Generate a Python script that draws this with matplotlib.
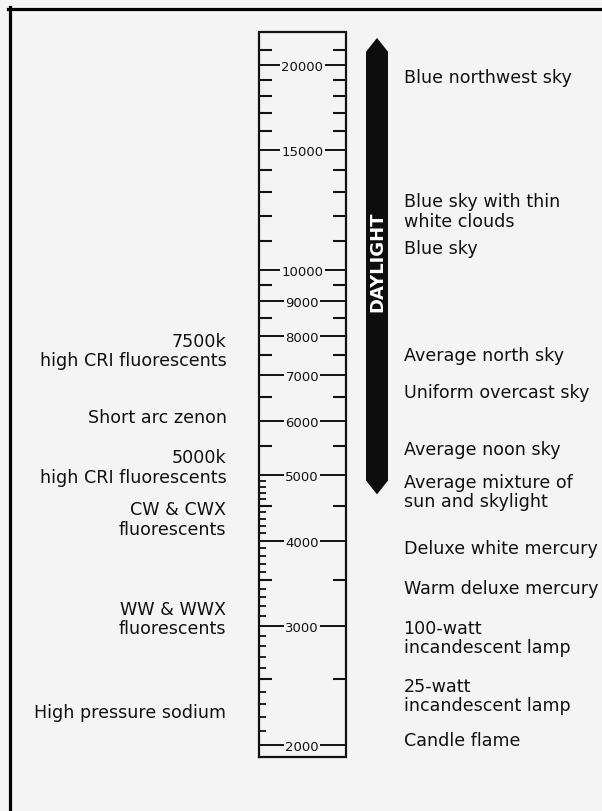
import matplotlib.pyplot as plt
from matplotlib.lines import Line2D

# colour temperature scale (kelvin), drawn on a log axis
major = [20000, 15000, 10000, 9000, 8000, 7000, 6000, 5000, 4000, 3000, 2000]
minor = [21000, 19000, 18000, 17000, 16000, 14000, 13000, 12000, 11000,
         9500, 8500, 7500, 6500, 5500, 4500, 3500, 2500]
fine = [t for t in range(2100, 5000, 100) if t % 500 != 0]

left_labels = ["7500k\nhigh CRI fluorescents", "Short arc zenon",
               "5000k\nhigh CRI fluorescents", "CW & CWX\nfluorescents",
               "WW & WWX\nfluorescents", "High pressure sodium"]
left_temps = [7600, 6080, 5130, 4300, 3070, 2240]

right_labels = ["Blue northwest sky", "Blue sky with thin\nwhite clouds", "Blue sky",
                "Average north sky", "Uniform overcast sky", "Average noon sky",
                "Average mixture of\nsun and skylight", "Deluxe white mercury",
                "Warm deluxe mercury", "100-watt\nincandescent lamp",
                "25-watt\nincandescent lamp", "Candle flame"]
right_temps = [19200, 12200, 10750, 7480, 6600, 5460, 4720, 3900, 3410, 2880, 2370, 2040]

daylight_top = 20900
daylight_bottom = 4900

bg = "#f4f4f4"
ink = "#111111"

fig = plt.figure(figsize=(6.02, 8.12), dpi=100, facecolor=bg)
ax = fig.add_axes([0, 0, 1, 1])
ax.set_facecolor(bg)
ax.set_yscale("log")
ax.set_ylim(1602, 24984)
ax.set_xlim(0, 602)
ax.axis("off")

# scale box
xl, xr = 258.5, 346
box_hi, box_lo = 22360, 1923
ax.plot([xl, xr, xr, xl, xl], [box_lo, box_lo, box_hi, box_hi, box_lo],
        color=ink, lw=1.6, solid_joinstyle="miter", zorder=2)

ax.hlines(major, xl, xr, color=ink, lw=1.4, zorder=1)
for t in major:
    ax.text((xl + xr) / 2, t, str(t), ha="center", va="center_baseline",
            fontsize=9.5, color=ink, zorder=3,
            bbox=dict(boxstyle="square,pad=0.1", fc=bg, ec="none"))

ax.hlines(minor, xl, xl + 13, color=ink, lw=1.5)
ax.hlines(minor, xr - 13, xr, color=ink, lw=1.5)
ax.hlines(fine, xl, xl + 7, color=ink, lw=1.3)

# daylight arrow
tip = 1.048
bx0, bx1 = 366, 388
bxm = (bx0 + bx1) / 2
ax.fill([bx0, bxm, bx1, bx1, bxm, bx0],
        [daylight_top, daylight_top * tip, daylight_top,
         daylight_bottom, daylight_bottom / tip, daylight_bottom],
        color="#0d0d0d", lw=0, zorder=2)
ax.text(bxm + 0.5, 10300, "DAYLIGHT", rotation=90, ha="center", va="center",
        color="white", fontsize=13, fontweight="bold", zorder=3)

for lab, t in zip(left_labels, left_temps):
    ax.text(226.5, t, lab, ha="right", va="center", multialignment="right",
            fontsize=12.6, color=ink, linespacing=1.1)

for lab, t in zip(right_labels, right_temps):
    ax.text(403.5, t, lab, ha="left", va="center", multialignment="left",
            fontsize=12.6, color=ink, linespacing=1.1)

# page frame (left and top edges only)
fig.add_artist(Line2D([8 / 602, 1], [1 - 9.5 / 812] * 2,
                      transform=fig.transFigure, color="black", lw=2.3))
fig.add_artist(Line2D([9.5 / 602] * 2, [0, 1 - 8 / 812],
                      transform=fig.transFigure, color="black", lw=2.3))

fig.savefig("out.png", dpi=100, facecolor=bg)
